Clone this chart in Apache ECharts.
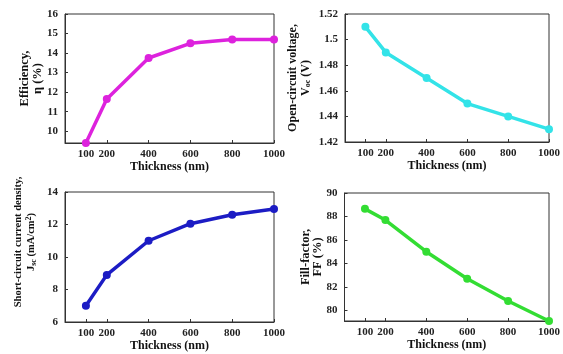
<!DOCTYPE html>
<html><head><meta charset="utf-8">
<script src="https://cdn.jsdelivr.net/npm/echarts@6/dist/echarts.min.js"></script>
<style>html,body{margin:0;padding:0;background:#fff}#c{width:563px;height:354px}</style>
</head><body><div id="c"></div>
<script>
const thickness = [100, 200, 400, 600, 800, 1000];
const xTicks = [100, 200, 400, 600, 800, 1000];
const efficiency = [9.4, 11.65, 13.75, 14.5, 14.7, 14.7];
const voc = [1.51, 1.49, 1.47, 1.45, 1.44, 1.43];
const jsc = [7.0, 8.9, 11.0, 12.05, 12.6, 12.95];
const ff = [88.65, 87.7, 85.0, 82.7, 80.8, 79.1];
const effTicks = [10, 11, 12, 13, 14, 15, 16];
const vocTicks = [1.42, 1.44, 1.46, 1.48, 1.5, 1.52];
const jscTicks = [6, 8, 10, 12, 14];
const ffTicks = [80, 82, 84, 86, 88, 90];

const F = 'Liberation Serif';
const grids = [
  {left: 65, width: 209, top: 14, height: 129},
  {left: 345, width: 207, top: 14, height: 128},
  {left: 65, width: 209, top: 192, height: 130},
  {left: 344.5, width: 208, top: 193, height: 128}
].map(g => Object.assign(g, {show: true, borderColor: '#333', borderWidth: 1}));

function mkRich(fs, lh) {
  return {
    a: {fontFamily: F, fontWeight: 'bold', fontSize: fs, color: '#111', lineHeight: lh},
    s: {fontFamily: F, fontWeight: 'bold', fontSize: 8, color: '#111', verticalAlign: 'bottom', lineHeight: lh, padding: [6, 0, 0, 0]},
    p: {fontFamily: F, fontWeight: 'bold', fontSize: 8, color: '#111', verticalAlign: 'top', lineHeight: lh, padding: [0, 0, 6, 0]}
  };
}

function xAxis(i) {
  return {
    type: 'value', gridIndex: i, min: 0, max: 1000,
    name: 'Thickness (nm)', nameLocation: 'middle', nameGap: 18,
    nameTextStyle: {fontFamily: F, fontWeight: 'bold', fontSize: 12, color: '#111'},
    axisLine: {show: true, onZero: false, lineStyle: {color: '#333'}},
    axisTick: {show: true, inside: true, length: 3, customValues: xTicks, lineStyle: {color: '#333'}},
    axisLabel: {customValues: xTicks, fontFamily: F, fontWeight: 'bold', fontSize: 11, color: '#222', margin: 6,
      formatter: v => String(v)},
    splitLine: {show: false}
  };
}
function yAxis(i, min, max, ticks, name, gap, fs, lh, pad) {
  return {
    type: 'value', gridIndex: i, min: min, max: max,
    name: name, nameLocation: 'middle', nameGap: gap, nameMoveOverlap: false,
    nameTextStyle: {rich: mkRich(fs, lh), align: 'center', padding: pad || 0},
    axisLine: {show: true, onZero: false, lineStyle: {color: '#333'}},
    axisTick: {show: true, inside: true, length: 3, customValues: ticks, lineStyle: {color: '#333'}},
    axisLabel: {customValues: ticks, fontFamily: F, fontWeight: 'bold', fontSize: 11, color: '#222', margin: 7,
      formatter: v => String(+v.toFixed(2))},
    splitLine: {show: false}
  };
}
function series(i, data, color) {
  return {
    type: 'line', xAxisIndex: i, yAxisIndex: i,
    data: thickness.map((t, k) => [t, data[k]]),
    lineStyle: {color: color, width: 3.5}, itemStyle: {color: color},
    symbol: 'circle', symbolSize: 8, clip: false, animation: false
  };
}

const chart = echarts.init(document.getElementById('c'), null, {renderer: 'canvas'});
chart.setOption({
  backgroundColor: '#fff',
  animation: false,
  grid: grids,
  xAxis: [xAxis(0), xAxis(1), xAxis(2), xAxis(3)],
  yAxis: [
    yAxis(0, 9.4, 16, effTicks, '{a|Efficiency,}\n{a|η (%)}', 21, 12.5, 13),
    yAxis(1, 1.42, 1.52, vocTicks, '{a|Open-circuit voltage,}\n{a|V}{s|oc}{a| (V)}', 33, 12, 13),
    yAxis(2, 6, 14, jscTicks, '{a|Short-circuit current density,}\n{a|J}{s|sc}{a| (mA/cm}{p|2}{a|)}', 27, 10.5, 13, [0, 0, 0, 30]),
    yAxis(3, 79.1, 90, ffTicks, '{a|Fill-factor,}\n{a|FF (%)}', 21, 12.5, 12)
  ],
  series: [
    series(0, efficiency, '#dd22dd'),
    series(1, voc, '#33e3e8'),
    series(2, jsc, '#1c1cc4'),
    series(3, ff, '#33dd33')
  ]
});
</script></body></html>
